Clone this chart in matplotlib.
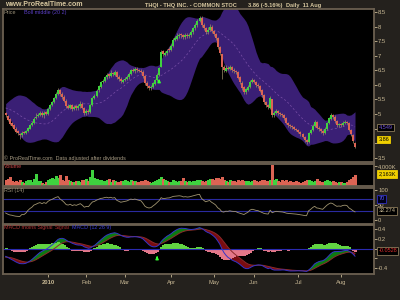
import numpy as np
import pandas as pd
import matplotlib
matplotlib.use("Agg")
import matplotlib.pyplot as plt

plt.rcParams["font.family"] = ["Liberation Sans", "DejaVu Sans"]

# ---------------- data ----------------
month_ticks = [21, 40, 59, 82, 103, 123, 145, 166]
month_labels = ["2010", "Feb", "Mar", "Apr", "May", "Jun", "Jul", "Aug"]

# closes before the visible window (estimated, only used to warm up indicators)
pre_closes = [6.60, 6.55, 6.50, 6.42, 6.35, 6.30, 6.20, 6.10, 6.00, 5.92,
              5.85, 5.78, 5.70, 5.62, 5.55, 5.50, 5.45, 5.40, 5.35, 5.30,
              5.25, 5.22, 5.28, 5.20, 5.18, 5.25, 5.22, 5.30, 5.24, 5.20,
              5.18, 5.26, 5.22, 5.25, 5.20, 5.28, 5.24, 5.18, 5.22, 5.10]

opens = [5.02,4.94,4.82,4.68,4.62,4.50,4.40,4.32,4.27,4.38,
         4.33,4.41,4.50,4.63,4.70,4.86,4.92,4.97,5.05,4.96,
         5.06,5.00,5.17,5.30,5.42,5.56,5.68,5.82,5.70,5.60,
         5.44,5.28,5.21,5.30,5.17,5.26,5.19,5.27,5.36,5.20,
         5.02,5.12,5.08,5.31,5.54,5.63,5.81,5.94,6.11,6.14,
         6.27,6.36,6.29,6.42,6.35,6.44,6.28,6.21,6.11,6.16,
         6.21,6.26,6.37,6.52,6.47,6.56,6.52,6.49,6.46,6.31,
         6.08,5.96,5.88,5.92,6.04,6.16,6.33,6.62,7.15,7.04,
         7.09,7.25,7.19,7.34,7.56,7.59,7.67,7.74,7.71,7.64,
         7.71,7.67,7.71,7.81,7.94,8.05,8.21,8.31,8.07,7.96,
         7.81,7.89,8.00,7.86,7.76,7.60,7.31,7.05,6.60,6.49,
         6.59,6.54,6.62,6.52,6.47,6.44,6.26,6.08,5.92,5.75,
         5.84,5.94,6.09,6.18,6.11,6.01,5.96,5.81,5.64,5.41,
         5.30,5.22,5.50,4.95,5.04,5.11,5.04,5.01,4.97,4.86,
         4.70,4.60,4.57,4.54,4.49,4.44,4.39,4.31,4.22,4.11,
         4.05,4.33,4.44,4.58,4.73,4.53,4.49,4.41,4.33,4.49,
         4.68,4.84,4.97,4.91,4.76,4.61,4.66,4.61,4.69,4.73,
         4.68,4.44,4.29,4.02]

highs = [5.08,4.98,4.86,4.74,4.66,4.55,4.45,4.36,4.40,4.42,
         4.45,4.56,4.66,4.75,4.90,5.02,5.05,5.12,5.10,5.10,
         5.12,5.22,5.36,5.46,5.60,5.76,5.88,5.86,5.74,5.64,
         5.50,5.34,5.36,5.33,5.30,5.31,5.33,5.45,5.40,5.24,
         5.16,5.18,5.34,5.60,5.68,5.85,6.00,6.15,6.22,6.32,
         6.40,6.42,6.50,6.46,6.52,6.48,6.33,6.26,6.22,6.28,
         6.34,6.44,6.56,6.58,6.60,6.60,6.56,6.54,6.50,6.35,
         6.12,6.00,5.98,6.10,6.22,6.40,6.63,7.20,7.20,7.18,
         7.24,7.30,7.42,7.60,7.68,7.78,7.80,7.80,7.76,7.80,
         7.78,7.80,7.88,8.00,8.12,8.28,8.38,8.36,8.12,8.00,
         7.98,8.10,8.05,7.90,7.80,7.64,7.35,7.08,6.68,6.70,
         6.66,6.68,6.66,6.58,6.52,6.48,6.30,6.12,5.96,5.90,
         6.00,6.16,6.24,6.22,6.15,6.06,6.00,5.86,5.68,5.46,
         5.35,5.62,5.52,5.10,5.16,5.15,5.08,5.05,5.00,4.90,
         4.74,4.66,4.62,4.58,4.53,4.48,4.42,4.35,4.26,4.15,
         4.38,4.50,4.65,4.80,4.76,4.58,4.53,4.45,4.55,4.74,
         4.90,5.02,5.00,4.95,4.80,4.70,4.70,4.75,4.78,4.77,
         4.72,4.48,4.32,4.05]

lows = [4.90,4.76,4.62,4.55,4.44,4.33,4.28,4.15,4.22,4.30,
        4.30,4.38,4.47,4.58,4.67,4.82,4.88,4.93,4.90,4.85,
        4.95,4.97,5.14,5.26,5.38,5.52,5.65,5.62,5.52,5.40,
        5.20,5.16,5.17,5.12,5.13,5.15,5.15,5.22,5.16,4.98,
        4.97,5.00,5.04,5.28,5.50,5.60,5.77,5.90,6.06,6.10,
        6.22,6.25,6.26,6.30,6.31,6.22,6.15,6.07,6.06,6.12,
        6.17,6.22,6.33,6.43,6.42,6.46,6.43,6.40,6.25,6.00,
        5.88,5.82,5.83,5.88,6.00,6.12,6.30,6.60,7.00,6.98,
        7.04,7.12,7.15,7.30,7.50,7.55,7.60,7.62,7.58,7.58,
        7.62,7.62,7.66,7.76,7.90,8.00,8.15,8.00,7.88,7.75,
        7.76,7.84,7.80,7.68,7.55,7.25,7.02,6.20,6.44,6.45,
        6.50,6.50,6.46,6.42,6.38,6.20,6.04,5.84,5.68,5.70,
        5.80,5.90,6.05,6.05,5.94,5.90,5.74,5.60,5.35,5.25,
        5.18,5.18,4.90,4.90,5.00,4.98,4.94,4.90,4.80,4.64,
        4.56,4.52,4.50,4.45,4.40,4.33,4.25,4.16,4.04,3.98,
        4.02,4.30,4.40,4.55,4.48,4.43,4.35,4.28,4.30,4.45,
        4.64,4.80,4.84,4.70,4.57,4.56,4.57,4.58,4.64,4.64,
        4.40,4.25,4.02,3.82]

closes = [4.95,4.80,4.66,4.60,4.48,4.38,4.33,4.28,4.36,4.34,
          4.40,4.52,4.62,4.70,4.84,4.90,4.98,5.03,4.97,5.05,
          5.00,5.18,5.31,5.40,5.55,5.70,5.83,5.68,5.59,5.45,
          5.26,5.22,5.30,5.18,5.25,5.20,5.28,5.35,5.22,5.03,
          5.10,5.07,5.30,5.55,5.62,5.80,5.95,6.10,6.15,6.28,
          6.34,6.30,6.41,6.36,6.45,6.27,6.20,6.12,6.17,6.22,
          6.27,6.38,6.51,6.48,6.55,6.51,6.48,6.45,6.30,6.07,
          5.95,5.90,5.93,6.05,6.17,6.35,6.58,7.13,7.05,7.10,
          7.18,7.20,7.35,7.55,7.60,7.68,7.72,7.70,7.65,7.70,
          7.68,7.72,7.82,7.95,8.06,8.20,8.30,8.06,7.95,7.82,
          7.90,7.99,7.85,7.75,7.61,7.30,7.10,6.62,6.50,6.58,
          6.55,6.60,6.51,6.48,6.45,6.25,6.10,5.90,5.76,5.85,
          5.93,6.10,6.17,6.10,6.00,5.95,5.80,5.65,5.40,5.31,
          5.25,5.55,4.96,5.05,5.10,5.03,5.00,4.96,4.85,4.69,
          4.62,4.58,4.55,4.50,4.45,4.38,4.30,4.21,4.10,4.04,
          4.34,4.45,4.60,4.72,4.52,4.48,4.40,4.34,4.50,4.69,
          4.85,4.96,4.90,4.75,4.62,4.65,4.62,4.70,4.72,4.69,
          4.45,4.30,4.07,3.86]

volumes_k = [1300,1500,1900,1100,900,1000,800,1200,900,700,
             1000,1300,1200,900,1500,2500,1100,1000,700,500,
             800,1200,1400,1600,1500,2100,1700,2200,1300,1000,
             2100,1200,1000,900,800,1100,1000,900,1200,1300,
             1400,1000,1800,3300,1700,1500,1300,1200,1100,1000,
             1200,1500,900,1300,1000,900,800,1000,1100,1200,
             1000,900,1200,1100,1000,800,900,1000,1100,1200,
             1000,800,700,900,1100,1300,1500,1900,1400,1200,
             1000,900,800,1200,1000,900,1100,1000,1600,1000,
             800,1000,900,1100,1000,1200,1300,1000,900,1000,
             1200,1400,1500,1300,1600,1700,1400,1900,1300,1100,
             900,1200,1000,1100,900,1300,1000,1200,1100,1000,
             1100,900,1000,1200,1000,900,1100,1300,1200,1000,
             1100,1300,4200,1200,1400,1100,900,1200,1000,1300,
             900,1000,800,900,1100,800,700,900,1000,1200,
             1300,1000,900,1100,1400,1000,900,800,1000,1200,
             1100,900,1000,800,700,900,800,700,600,800,
             1200,1500,1800,2163]

signal_bar = 76

# ---------------- indicators ----------------
n_pre = len(pre_closes)
allc = pd.Series(pre_closes + closes, dtype=float)
mid = allc.rolling(20).mean()
sd = allc.rolling(20).std(ddof=0)
upper = (mid + 2 * sd).values[n_pre:]
lower = (mid - 2 * sd).values[n_pre:]
middle = mid.values[n_pre:]
ema12 = allc.ewm(span=12, adjust=False).mean()
ema26 = allc.ewm(span=26, adjust=False).mean()
macd_s = ema12 - ema26
sig_s = macd_s.ewm(span=9, adjust=False).mean()
macd = macd_s.values[n_pre:]
sig = sig_s.values[n_pre:]
hist = macd - sig
delta = allc.diff()
ag = delta.clip(lower=0).ewm(alpha=1 / 14, adjust=False).mean()
al = (-delta.clip(upper=0)).ewm(alpha=1 / 14, adjust=False).mean()
rsi = (100 - 100 / (1 + ag / al)).values[n_pre:]

o = np.array(opens); h = np.array(highs); l = np.array(lows); c = np.array(closes)
v = np.array(volumes_k, dtype=float)
idx = np.arange(len(c))
up_bar = c >= o

# ---------------- styling ----------------
W, H = 400, 300
BG = "#24211d"
EDGE = "#6b6050"
TXT = "#c8b894"
GREEN = "#3fd23f"
RED = "#dc6454"
WICK = "#9c8e66"

bar_cols = [GREEN if u else RED for u in up_bar]
hist_cols = ["#62d442" if x >= 0 else "#e4788a" for x in hist]

fig = plt.figure(figsize=(4, 3), dpi=100, facecolor=BG)
renderer = fig.canvas.get_renderer()


def add_panel(y0, y1):
    ax = fig.add_axes([3 / W, 1 - y1 / H, 371 / W, (y1 - y0) / H], facecolor="black")
    ax.set_xlim(-1.3, 182.4)
    for s in ax.spines.values():
        s.set_color(EDGE)
        s.set_linewidth(1.3)
    ax.yaxis.tick_right()
    ax.tick_params(axis="y", colors=TXT, labelsize=4.2, length=2, width=0.6, pad=1,
                   direction="out")
    ax.set_xticks([])
    return ax


def ftext(x, y, s, **kw):
    kw.setdefault("fontsize", 3.9)
    kw.setdefault("va", "center")
    kw.setdefault("ha", "left")
    return fig.text(x / W, 1 - y / H, s, **kw)


def text_run(x, y, parts, gap=2.0, **kw):
    """Place coloured pieces of one label one after another."""
    for s, col in parts:
        t = ftext(x, y, s, color=col, **kw)
        bb = t.get_window_extent(renderer)
        x = bb.x1 + gap


# ---- price panel ----
axp = add_panel(9, 162)
axp.set_ylim(3.35, 8.61)
axp.fill_between(idx, lower, upper, color="#3a1f75", lw=0, zorder=1)
axp.plot(idx, middle, color="#7a4fa8", lw=0.5, ls=(0, (3, 3)), zorder=2)
axp.vlines(idx, l, h, color=WICK, lw=0.5, zorder=3)
body_bottom = np.minimum(o, c)
body_top = np.maximum(np.maximum(o, c), body_bottom + 0.025)
axp.vlines(idx, body_bottom, body_top, colors=bar_cols, lw=1.15,
           antialiased=False, capstyle="butt", zorder=4)
axp.annotate("", xy=(signal_bar, 6.30), xytext=(signal_bar, 6.02),
             arrowprops=dict(arrowstyle="-|>", color="#33ff33", lw=1.0,
                             mutation_scale=4), zorder=6)
pt = [3.5, 4, 4.5, 5, 5.5, 6, 6.5, 7, 7.5, 8, 8.5]
axp.set_yticks(pt)
axp.set_yticklabels([("" if t in (4, 4.5) else "%g" % t) for t in pt])

# ---- volume panel ----
axv = add_panel(163.5, 186)
axv.set_ylim(0, 4530)
axv.vlines(idx, 0, v, colors=bar_cols, lw=0.95, antialiased=False, capstyle="butt")
axv.set_yticks([4000])
axv.set_yticklabels(["4,000K"])

# ---- RSI panel ----
axr = add_panel(187.5, 223.5)
axr.set_ylim(-10.6, 108.3)
axr.axhline(70, color="#2a2aa0", lw=0.8)
axr.axhline(30, color="#2a2aa0", lw=0.8)
axr.plot(idx, rsi, color="#a09470", lw=0.6)
axr.set_yticks([0, 50, 100])
axr.set_yticklabels(["0", "50", "100"])

# ---- MACD panel ----
axm = add_panel(224.5, 274)
axm.set_ylim(-0.515, 0.485)
axm.vlines(idx, 0, hist, colors=hist_cols, lw=0.95, antialiased=False, capstyle="butt")
axm.axhline(0, color="#2a2ab0", lw=0.8)
axm.fill_between(idx, macd, sig, where=macd >= sig, interpolate=True,
                 color="#0d7a12", lw=0)
axm.fill_between(idx, macd, sig, where=macd < sig, interpolate=True,
                 color="#7a0c10", lw=0)
axm.plot(idx, sig, color="#8b2a2a", lw=0.7)
axm.plot(idx, macd, color="#3434c8", lw=0.7)
axm.annotate("", xy=(signal_bar - 1, -0.095), xytext=(signal_bar - 1, -0.25),
             arrowprops=dict(arrowstyle="-|>", color="#33ff33", lw=1.0,
                             mutation_scale=4), zorder=6)
mt = [-0.4, -0.2, 0, 0.2, 0.4]
axm.set_yticks(mt)
axm.set_yticklabels(["-0.4", "", "", "0.2", "0.4"])
axm.set_xticks(month_ticks)
axm.set_xticklabels(month_labels)
axm.tick_params(axis="x", colors=TXT, labelsize=4.2, length=2, width=0.6, pad=2.5)
axm.get_xticklabels()[0].set_fontweight("bold")

# ---------------- texts ----------------
ftext(5, 5, "www.ProRealTime.com", fontsize=5, weight="bold", color="#d8c8a0")
ftext(145, 5, "THQI - THQ INC. - COMMON STOC", fontsize=4.1, weight="bold", color="#d8c8a0")
ftext(248, 5, "3.86 (-5.16%)", fontsize=4.1, weight="bold", color="#d8c8a0")
ftext(286, 5, "Daily  11 Aug", fontsize=4.1, weight="bold", color="#d8c8a0")

text_run(4, 12.7, [("Price", "#9a9078"), ("Boll middle (20 2)", "#5b3fc4")], gap=7)
ftext(4, 158.5, "\u00a9 ProRealTime.com  Data adjusted after dividends", color="#a89c84")
ftext(4, 167, "Volume", color="#d04848")
ftext(4, 190.5, "RSI (14)", color="#9a9078")
text_run(4, 228, [("MACD moins Signal", "#b03434"), ("Signal", "#a02a2a"),
                  ("MACD (12 26 9)", "#3a3ad0")], gap=2.5)


def box(y, s, tc, fc, ec):
    ftext(378.5, y, s, fontsize=4, color=tc,
          bbox=dict(boxstyle="square,pad=0.2", fc=fc, ec=ec, lw=0.6), zorder=10)


box(127.5, "4.549", "#7050d8", "black", "#8a7a5a")
box(139.5, "3.86", "#000000", "#f0d000", "#f0d000")
box(174, "2,163K", "#000000", "#f0d000", "#f0d000")
box(199, "70", "#5a5aff", "#000018", "#3030c0")
box(211, "32.274", TXT, "black", "#8a7a5a")
box(251, "-0.0528", "#e03030", "black", "#8a7a5a")

fig.savefig("out.png", dpi=100, facecolor=BG)
